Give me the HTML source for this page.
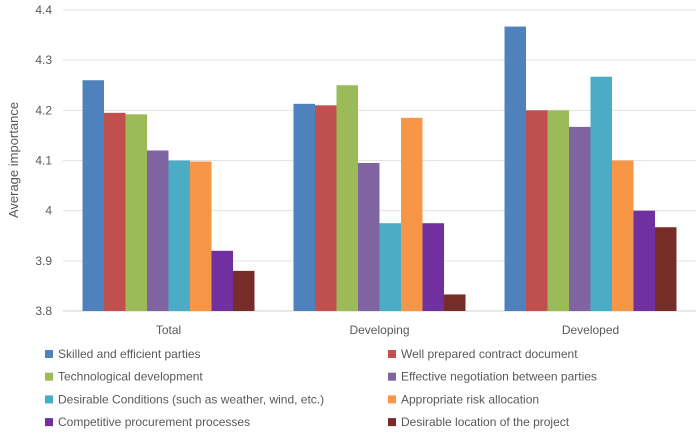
<!DOCTYPE html>
<html><head><meta charset="utf-8"><style>
body{margin:0;background:#fff;font-family:"Liberation Sans",sans-serif;}
svg text{font-family:"Liberation Sans",sans-serif;fill:#595959;}
</style></head><body>
<svg id="c" width="700" height="442"></svg>
<script>
const categories=["Total","Developing","Developed"];
const seriesNames=["Skilled and efficient parties","Well prepared contract document","Technological development","Effective negotiation between parties","Desirable Conditions (such as weather, wind, etc.)","Appropriate risk allocation","Competitive procurement processes","Desirable location of the project"];
const colors=["#4F81BD","#C0504D","#9BBB59","#8064A2","#4BACC6","#F79646","#7030A0","#772C2A"];
const s1=[4.26,4.213,4.367];
const s2=[4.195,4.21,4.2];
const s3=[4.192,4.25,4.2];
const s4=[4.12,4.095,4.167];
const s5=[4.1,3.975,4.267];
const s6=[4.098,4.185,4.1];
const s7=[3.92,3.975,4.0];
const s8=[3.88,3.833,3.967];
const series=[s1,s2,s3,s4,s5,s6,s7,s8];
const yTicks=["3.8","3.9","4","4.1","4.2","4.3","4.4"];
const NS="http://www.w3.org/2000/svg",svg=document.getElementById('c');
const L=63,R=696,T=10,B=311,yMin=3.8,yMax=4.4;
const y=v=>B-(v-yMin)/(yMax-yMin)*(B-T);
const cw=(R-L)/categories.length,bw=21.5;
function mk(t,a){const e=document.createElementNS(NS,t);for(const k in a)e.setAttribute(k,a[k]);svg.appendChild(e);return e;}
yTicks.forEach(t=>{const v=parseFloat(t);
 const g=mk('line',{x1:L,x2:R,y1:y(v),y2:y(v),stroke:v===yMin?'#d0d0d0':'#e3e3e3','stroke-width':1});
 
 
 const tx=mk('text',{x:L-11,y:y(v)+4,'font-size':12,'text-anchor':'end'});tx.textContent=t;
 
 
});
const yt=mk('text',{transform:'translate(18,160) rotate(-90)','font-size':13,'text-anchor':'middle'});yt.textContent='Average importance';


categories.forEach((c,i)=>{const cx=L+cw*(i+0.5);
 series.forEach((s,j)=>{const x=cx-bw*4+bw*j;
  const r=mk('rect',{x:x,y:y(s[i]),width:bw,height:B-y(s[i]),fill:colors[j]});
  
  
 });
 const t=mk('text',{x:cx,y:334,'font-size':12,'text-anchor':'middle'});t.textContent=c;
 
 
});
seriesNames.forEach((n,j)=>{const col=j%2,row=Math.floor(j/2);
 const x=col?388:45,yy=354+row*22.7;
 const r=mk('rect',{x:x,y:yy-4,width:8,height:8,fill:colors[j]});
 
 
 const t=mk('text',{x:x+13,y:yy+4,'font-size':12});t.textContent=n;
 
 
});
</script>
</body></html>
